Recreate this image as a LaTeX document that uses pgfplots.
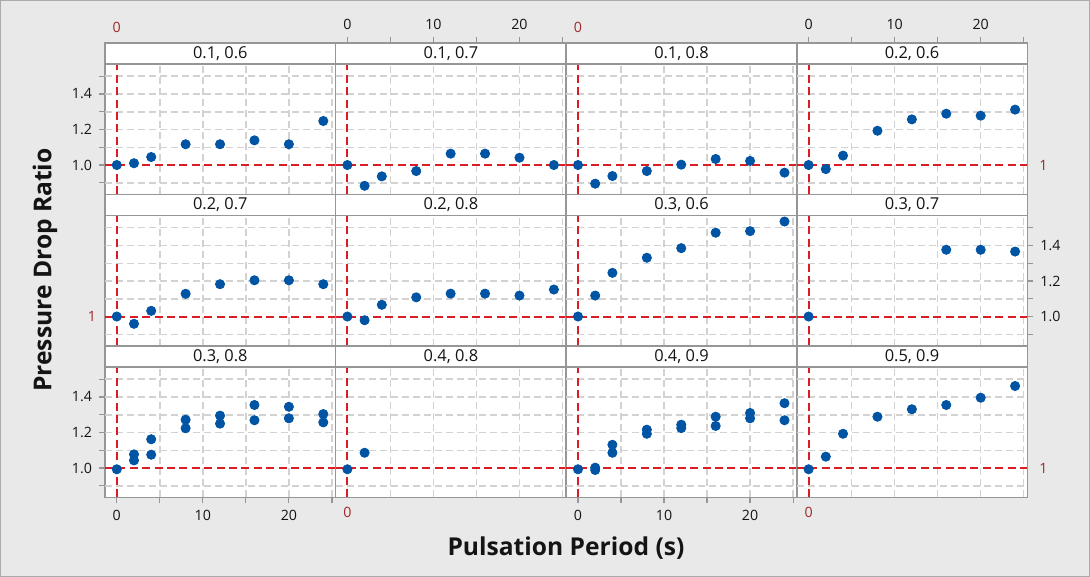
\documentclass[border=0pt]{standalone}
\usepackage{pgfplots}
\pgfplotsset{compat=1.18}
\usepackage{fontspec}
\setmainfont{Open Sans}
\definecolor{bg}{RGB}{233,233,233}
\definecolor{bordergray}{RGB}{150,150,150}
\definecolor{gridgray}{RGB}{210,210,210}
\definecolor{refred}{RGB}{220,28,36}
\definecolor{reftext}{RGB}{160,40,40}
\definecolor{ptblue}{RGB}{0,84,164}
\definecolor{txt}{RGB}{20,20,20}

\pgfplotsset{
  panel/.style={
    scale only axis, width=115.3pt, height=75.75pt, anchor=south west,
    xmin=-1.37, xmax=25.43, ymin=0.834, ymax=1.6873,
    clip=false,
    axis background/.style={fill=white},
    axis line style={draw=bordergray, line width=0.75pt},
    tick align=outside, major tick length=3pt,
    major tick style={draw=bordergray, line width=0.6pt},
    tick label style={font=\fontsize{7.1}{8}\selectfont, text=txt},
    xtick=\empty, ytick=\empty,
  },
  lefty/.style={ytick={0.9,1.0,1.1,1.2,1.3,1.4,1.5}, yticklabels={,1.0,,1.2,,1.4,}, ytick pos=left, yticklabel pos=left},
  righty/.style={ytick={0.9,1.0,1.1,1.2,1.3,1.4,1.5}, yticklabels={,1.0,,1.2,,1.4,}, ytick pos=right, yticklabel pos=right},
  topx/.style={xtick={0,5,10,15,20,25}, xticklabels={0,,10,,20,}, xtick pos=right, xticklabel pos=right},
  botx/.style={xtick={0,5,10,15,20,25}, xticklabels={0,,10,,20,}, xtick pos=left, xticklabel pos=left},
}
\tikzset{
  refline/.style={draw=refred, line width=1pt, dash pattern=on 4pt off 2.2pt},
  gridl/.style={draw=gridgray, line width=0.75pt, dash pattern=on 3.5pt off 2pt},
  reflab/.style={text=reftext, font=\fontsize{7.1}{8}\selectfont},
}

% #1 x, #2 y, #3 options, #4 title, #5 coordinates, #6 extra
\newcommand{\panel}[6]{%
\begin{axis}[panel, at={(#1,#2)}, #3]
\draw[gridl] (axis cs:5,0.834) -- (axis cs:5,1.569);
\draw[gridl] (axis cs:10,0.834) -- (axis cs:10,1.569);
\draw[gridl] (axis cs:15,0.834) -- (axis cs:15,1.569);
\draw[gridl] (axis cs:20,0.834) -- (axis cs:20,1.569);
\draw[gridl] (axis cs:25,0.834) -- (axis cs:25,1.569);
\draw[gridl] (axis cs:-1.37,0.9) -- (axis cs:25.43,0.9);
\draw[gridl] (axis cs:-1.37,1.1) -- (axis cs:25.43,1.1);
\draw[gridl] (axis cs:-1.37,1.2) -- (axis cs:25.43,1.2);
\draw[gridl] (axis cs:-1.37,1.3) -- (axis cs:25.43,1.3);
\draw[gridl] (axis cs:-1.37,1.4) -- (axis cs:25.43,1.4);
\draw[gridl] (axis cs:-1.37,1.5) -- (axis cs:25.43,1.5);
\draw[refline] (axis cs:-1.37,1) -- (axis cs:25.43,1);
\draw[refline] (axis cs:0,0.834) -- (axis cs:0,1.569);
\addplot[only marks, mark=*, mark size=2.3pt, color=ptblue, mark options={fill=ptblue, draw=ptblue}] coordinates {#5};
\draw[draw=bordergray, line width=0.75pt, fill=white] (axis cs:-1.37,1.569) rectangle (axis cs:25.43,1.6873);
\node[font=\fontsize{8.2}{9}\selectfont, text=txt] at (axis cs:12.03,1.628) {#4};
#6
\end{axis}}

\begin{document}
\begin{tikzpicture}
\fill[bg] (0,0) rectangle (545pt,288.5pt);
\draw[bordergray!80, line width=0.5pt] (0.25pt,0.25pt) rectangle (544.75pt,288.25pt);

% Row 1
\panel{52.5pt}{191.25pt}{lefty}{0.1, 0.6}{(0,1.0)(2,1.01)(4,1.045)(8,1.117)(12,1.117)(16,1.139)(20,1.117)(24,1.248)}
  {\node[reflab, above=1.5pt] at (axis cs:0,1.6873) {0};}
\panel{167.8pt}{191.25pt}{topx}{0.1, 0.7}{(0,1.0)(2,0.883)(4,0.936)(8,0.966)(12,1.064)(16,1.064)(20,1.041)(24,1.0)}{}
\panel{283.1pt}{191.25pt}{}{0.1, 0.8}{(0,1.0)(2,0.895)(4,0.938)(8,0.966)(12,1.002)(16,1.034)(20,1.023)(24,0.957)}
  {\node[reflab, above=1.5pt] at (axis cs:0,1.6873) {0};}
\panel{398.4pt}{191.25pt}{topx}{0.2, 0.6}{(0,1.0)(2,0.977)(4,1.053)(8,1.193)(12,1.257)(16,1.289)(20,1.278)(24,1.312)}
  {\node[reflab, right=2.5pt] at (axis cs:25.43,1) {1};}

% Row 2
\panel{52.5pt}{115.5pt}{}{0.2, 0.7}{(0,1.0)(2,0.959)(4,1.032)(8,1.128)(12,1.182)(16,1.204)(20,1.204)(24,1.182)}
  {\node[reflab, left=1pt] at (axis cs:-1.37,1) {1};}
\panel{167.8pt}{115.5pt}{}{0.2, 0.8}{(0,1.0)(2,0.979)(4,1.066)(8,1.108)(12,1.129)(16,1.129)(20,1.118)(24,1.152)}{}
\panel{283.1pt}{115.5pt}{}{0.3, 0.6}{(0,1.0)(2,1.118)(4,1.246)(8,1.331)(12,1.385)(16,1.472)(20,1.481)(24,1.535)}{}
\panel{398.4pt}{115.5pt}{righty}{0.3, 0.7}{(0,1.0)(16,1.376)(20,1.376)(24,1.366)}{}

% Row 3
\panel{52.5pt}{39.75pt}{lefty,botx}{0.3, 0.8}{(0,0.993)(2,1.077)(2,1.043)(4,1.162)(4,1.075)(8,1.272)(8,1.224)(12,1.295)(12,1.25)(16,1.355)(16,1.269)(20,1.345)(20,1.28)(24,1.304)(24,1.257)}{}
\panel{167.8pt}{39.75pt}{}{0.4, 0.8}{(0,0.993)(2,1.086)}
  {\node[reflab, below=1.5pt] at (axis cs:0,0.834) {0};}
\panel{283.1pt}{39.75pt}{botx}{0.4, 0.9}{(0,0.993)(2,1.002)(2,0.989)(4,1.131)(4,1.086)(8,1.216)(8,1.193)(12,1.244)(12,1.225)(16,1.289)(16,1.237)(20,1.31)(20,1.28)(24,1.365)(24,1.269)}{}
\panel{398.4pt}{39.75pt}{}{0.5, 0.9}{(0,0.993)(2,1.064)(4,1.193)(8,1.289)(12,1.331)(16,1.355)(20,1.396)(24,1.462)}
  {\node[reflab, below=1.5pt] at (axis cs:0,0.834) {0};
   \node[reflab, right=2.5pt] at (axis cs:25.43,1) {1};}

\node[font=\bfseries\fontsize{12.3}{14}\selectfont, text=txt, rotate=90] at (22.5pt,153.5pt) {Pressure Drop Ratio};
\node[font=\bfseries\fontsize{12.3}{14}\selectfont, text=txt] at (283pt,14.5pt) {Pulsation Period (s)};
\end{tikzpicture}
\end{document}
